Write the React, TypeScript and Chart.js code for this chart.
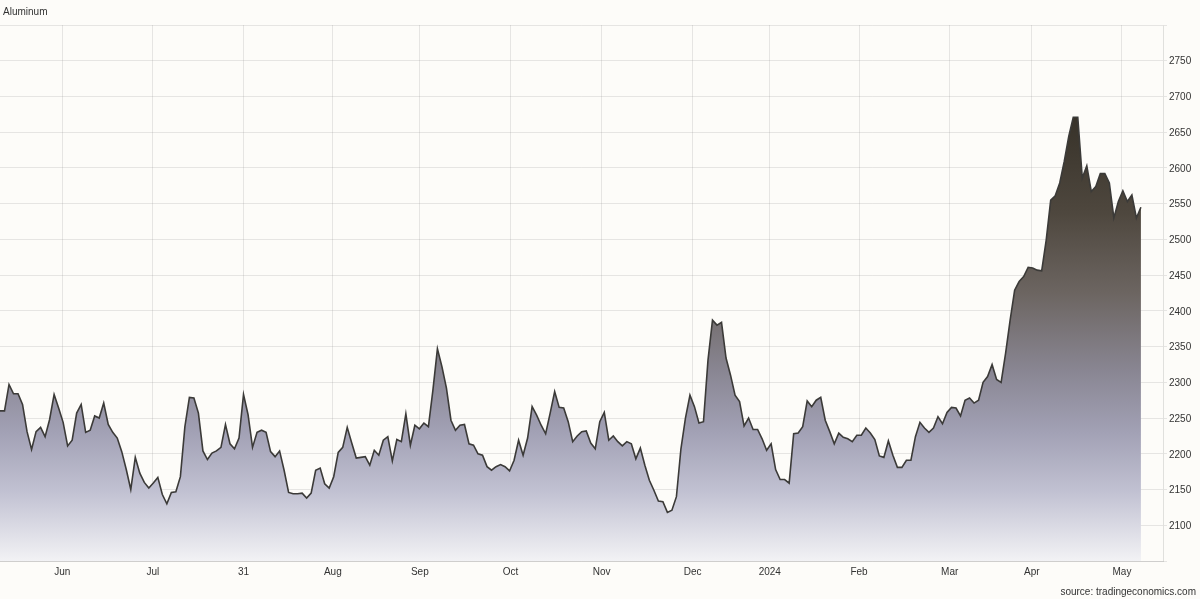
import React, { useEffect, useRef } from 'react';
import { Chart, registerables } from 'chart.js';

Chart.register(...registerables);

const seriesName = 'Aluminum';
const sourceText = 'source: tradingeconomics.com';

// daily closing prices, USD/T (one point per trading day)
const prices: number[] = [
  2260, 2260, 2297, 2284, 2284, 2269, 2231, 2206, 2231, 2237,
  2224, 2248, 2283, 2264, 2244, 2211, 2219, 2257, 2269, 2230,
  2233, 2253, 2250, 2271, 2241, 2230, 2222, 2203, 2178, 2150,
  2195, 2173, 2160, 2152, 2159, 2167, 2143, 2130, 2146, 2147,
  2168, 2238, 2279, 2278, 2257, 2204, 2192, 2201, 2204, 2209,
  2241, 2214, 2207, 2222, 2283, 2255, 2209, 2230, 2233, 2230,
  2203, 2196, 2204, 2177, 2146, 2144, 2144, 2145, 2138, 2145,
  2177, 2180, 2158, 2152, 2168, 2202, 2209, 2237, 2215, 2194,
  2195, 2196, 2184, 2205, 2198, 2219, 2224, 2190, 2220, 2217,
  2256, 2212, 2240, 2235, 2243, 2238, 2289, 2347, 2322, 2292,
  2247, 2233, 2240, 2241, 2214, 2212, 2200, 2198, 2182, 2177,
  2182, 2185, 2182, 2176, 2191, 2219, 2198, 2222, 2266, 2254,
  2240, 2228, 2257, 2287, 2265, 2264, 2245, 2217, 2225, 2231,
  2232, 2215, 2207, 2245, 2258, 2219, 2225, 2217, 2211, 2217,
  2214, 2193, 2208, 2184, 2163, 2149, 2134, 2133, 2118, 2121,
  2140, 2207, 2250, 2282, 2266, 2243, 2245, 2331, 2387, 2380,
  2384, 2334, 2310, 2282, 2273, 2239, 2250, 2234, 2234, 2221,
  2205, 2214, 2178, 2164, 2164, 2159, 2228, 2229, 2238, 2274,
  2266, 2275, 2279, 2247, 2231, 2214, 2229, 2223, 2221, 2217,
  2226, 2226, 2236, 2229, 2220, 2197, 2195, 2218, 2198, 2181,
  2181, 2191, 2191, 2224, 2244, 2236, 2230, 2236, 2252, 2242,
  2258, 2265, 2264, 2253, 2275, 2278, 2271, 2275, 2300, 2308,
  2325, 2304, 2300, 2341, 2387, 2429, 2441, 2448, 2461, 2460,
  2457, 2456, 2499, 2555, 2561, 2579, 2609, 2644, 2671, 2671,
  2586, 2603, 2567, 2574, 2592, 2592, 2579, 2530, 2553, 2568,
  2553, 2562, 2530, 2545,
];

// x-axis labels and the trading-day index where each one sits
const xTickLabels: string[] = ['Jun', 'Jul', '31', 'Aug', 'Sep', 'Oct', 'Nov', 'Dec', '2024', 'Feb', 'Mar', 'Apr', 'May'];
const xTickPos: number[] = [13.8, 33.9, 54.0, 73.8, 93.1, 113.2, 133.4, 153.6, 170.7, 190.5, 210.6, 228.8, 248.8];
const xMax = 257.9;

// y-axis ticks (ends are unlabeled)
const yTickValues: number[] = [2050, 2100, 2150, 2200, 2250, 2300, 2350, 2400, 2450, 2500, 2550, 2600, 2650, 2700, 2750, 2800];
const yMin = 2050;
const yMax = 2800;

const FONT_FAMILY = '"Liberation Sans", Arial, Helvetica, sans-serif';
const BG = '#fdfcf9';
const TEXT = '#333333';
const GRID = 'rgba(140,140,140,0.2)';

export default function App() {
  const ref = useRef<HTMLCanvasElement | null>(null);

  useEffect(() => {
    document.body.style.margin = '0';
    document.body.style.background = BG;
    const canvas = ref.current;
    if (!canvas) return;

    const textPlugin = {
      id: 'pageText',
      beforeDraw(chart: any) {
        const c = chart.ctx;
        c.save();
        c.fillStyle = BG;
        c.fillRect(0, 0, chart.width, chart.height);
        c.restore();
      },
      afterDraw(chart: any) {
        const c = chart.ctx;
        c.save();
        c.font = `10px ${FONT_FAMILY}`;
        c.fillStyle = TEXT;
        c.textBaseline = 'middle';
        c.textAlign = 'left';
        c.fillText(seriesName, 3, 12.5);
        c.textAlign = 'right';
        c.fillText(sourceText, 1196, 592);
        c.restore();
      },
    };

    const chart = new Chart(canvas, {
      type: 'line',
      data: {
        datasets: [
          {
            label: seriesName,
            data: prices.map((v, i) => ({ x: i, y: v })),
            borderColor: '#3b3a38',
            borderWidth: 1.6,
            pointRadius: 0,
            tension: 0,
            fill: 'start',
            backgroundColor: (ctx: any) => {
              const { chart: ch } = ctx;
              const area = ch.chartArea;
              if (!area) return 'rgba(0,0,0,0)';
              const g = ch.ctx.createLinearGradient(0, area.top, 0, area.bottom);
              g.addColorStop(0.0, 'rgb(42,38,30)');
              g.addColorStop(0.17, 'rgb(55,50,41)');
              g.addColorStop(0.35, 'rgb(78,71,62)');
              g.addColorStop(0.5, 'rgb(108,101,97)');
              g.addColorStop(0.65, 'rgb(138,135,148)');
              g.addColorStop(0.76, 'rgb(162,161,181)');
              g.addColorStop(0.87, 'rgb(193,193,210)');
              g.addColorStop(1.0, 'rgb(242,242,245)');
              return g;
            },
          },
        ],
      },
      options: {
        animation: false,
        responsive: false,
        maintainAspectRatio: false,
        layout: { padding: { top: 25, bottom: 18, left: 0, right: 0 } },
        plugins: {
          legend: { display: false },
          tooltip: { enabled: false },
          title: { display: false },
        },
        scales: {
          x: {
            type: 'linear',
            min: 0,
            max: xMax,
            z: 1,
            afterBuildTicks: (s: any) => {
              s.ticks = xTickPos.map((v) => ({ value: v }));
            },
            afterFit: (s: any) => {
              s.height = 20;
            },
            grid: { color: GRID, drawTicks: false },
            border: { color: 'rgba(140,140,140,0.25)' },
            ticks: {
              autoSkip: false,
              maxRotation: 0,
              padding: 5,
              color: TEXT,
              font: { family: FONT_FAMILY, size: 10 },
              callback: (_v: any, i: number) => xTickLabels[i] ?? '',
            },
          },
          y: {
            type: 'linear',
            position: 'right',
            min: yMin,
            max: yMax,
            z: 1,
            afterBuildTicks: (s: any) => {
              s.ticks = yTickValues.map((v) => ({ value: v }));
            },
            afterFit: (s: any) => {
              s.width = 37;
            },
            grid: { color: GRID, drawTicks: true, tickLength: 4 },
            border: { color: 'rgba(140,140,140,0.25)' },
            ticks: {
              padding: 2,
              labelOffset: 1,
              color: TEXT,
              font: { family: FONT_FAMILY, size: 10 },
              callback: (v: any) => (v === yMin || v === yMax ? '' : String(v)),
            },
          },
        },
      },
      plugins: [textPlugin],
    } as any);

    return () => chart.destroy();
  }, []);

  return (
    <div style={{ position: 'fixed', left: 0, top: 0, width: 1200, height: 599, background: BG }}>
      <canvas ref={ref} width={1200} height={599} style={{ display: 'block', width: 1200, height: 599 }} />
    </div>
  );
}
